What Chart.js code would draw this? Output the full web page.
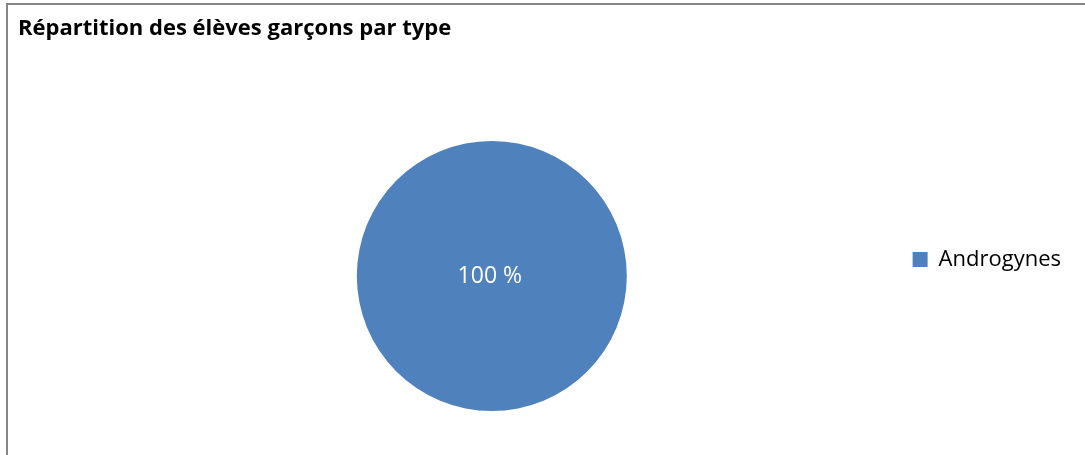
<!DOCTYPE html>
<html>
<head>
<meta charset="utf-8">
<title>Répartition des élèves garçons par type</title>
<script src="https://cdn.jsdelivr.net/npm/chart.js@4"></script>
<style>
  html, body { margin: 0; padding: 0; background: #fff; }
  canvas { display: block; }
</style>
</head>
<body>
<canvas id="chart" width="1085" height="455"></canvas>
<script>
const chartTitle = 'Répartition des élèves garçons par type';
const categories = ['Androgynes'];
const values = [100];
const sliceColors = ['#4F81BD'];

const FONT = '"Open Sans", "Noto Sans", sans-serif';

// Frame and title, drawn the way the spreadsheet does it
const framePlugin = {
  id: 'frame',
  beforeDraw(chart) {
    const ctx = chart.ctx;
    ctx.save();
    ctx.strokeStyle = '#868686';
    ctx.lineWidth = 2;
    ctx.beginPath();
    ctx.moveTo(7, chart.height);
    ctx.lineTo(7, 4);
    ctx.lineTo(chart.width, 4);
    ctx.stroke();
    ctx.fillStyle = '#000';
    ctx.font = 'bold 22px ' + FONT;
    ctx.textBaseline = 'alphabetic';
    ctx.fillText(chartTitle, 18, 35);
    ctx.restore();
  }
};

// Percent label in the middle of each slice
const percentLabels = {
  id: 'percentLabels',
  afterDatasetsDraw(chart) {
    const ctx = chart.ctx;
    const meta = chart.getDatasetMeta(0);
    const total = values.reduce((a, b) => a + b, 0);
    ctx.save();
    ctx.fillStyle = '#fff';
    ctx.font = '23px ' + FONT;
    ctx.textAlign = 'center';
    ctx.textBaseline = 'middle';
    meta.data.forEach((arc, i) => {
      const pct = Math.round(values[i] / total * 100) + ' %';
      let x = arc.x, y = arc.y;
      if (values.length > 1) {
        const p = arc.tooltipPosition();
        x = p.x; y = p.y;
      }
      ctx.fillText(pct, x - 2, y);
    });
    ctx.restore();
  }
};

new Chart(document.getElementById('chart'), {
  type: 'pie',
  data: {
    labels: categories,
    datasets: [{
      data: values,
      backgroundColor: sliceColors,
      borderWidth: 0,
      radius: 135
    }]
  },
  options: {
    responsive: false,
    animation: false,
    layout: {
      padding: { top: 107, bottom: 10, left: 81, right: 14 }
    },
    plugins: {
      title: { display: false },
      tooltip: { enabled: false },
      legend: {
        display: true,
        position: 'right',
        align: 'start',
        title: {
          display: true,
          text: '',
          padding: { top: 0, bottom: 117.1 }
        },
        labels: {
          boxWidth: 15,
          boxHeight: 15,
          padding: 10,
          color: '#000',
          font: { family: FONT, size: 22 }
        }
      }
    }
  },
  plugins: [framePlugin, percentLabels]
});
</script>
</body>
</html>
